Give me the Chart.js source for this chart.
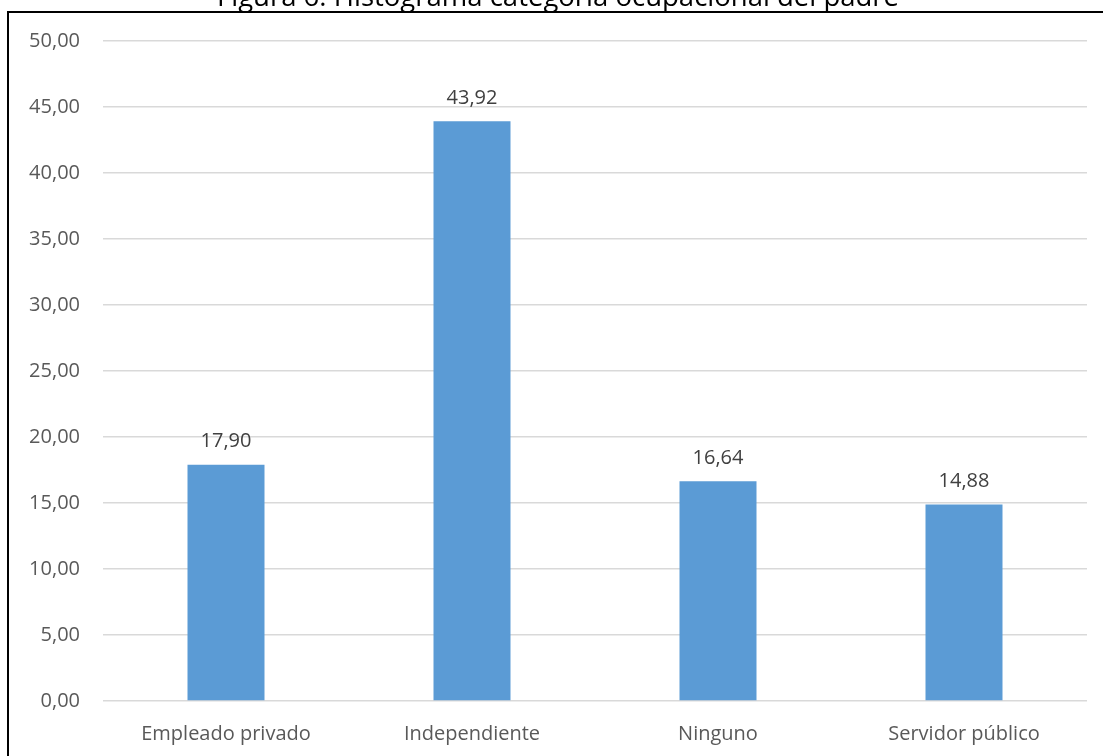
<!DOCTYPE html>
<html>
<head>
<meta charset="utf-8">
<script src="https://cdn.jsdelivr.net/npm/chart.js@4/dist/chart.umd.min.js"></script>
<style>
  body { margin: 0; background: #fff; overflow: hidden; }
  #wrap { position: absolute; left: 0; top: 0; width: 1103px; height: 756px; }
</style>
</head>
<body>
<div id="wrap"><canvas id="chart6"></canvas></div>
<script>
const titulo = 'Figura 6. Histograma categoría ocupacional del padre'
const categorias = ['Empleado privado', 'Independiente', 'Ninguno', 'Servidor público']
const porcentajes = [17.90, 43.92, 16.64, 14.88]

const fmt = v => v.toFixed(2).replace('.', ',')
const fuente = '"Open Sans", "Noto Sans", sans-serif'

// marco y titulo recortado arriba
const marco = {
    id: 'marco',
    afterDraw(chart) {
        const ctx = chart.ctx
        ctx.save()
        ctx.fillStyle = '#000'
        ctx.font = '27.5px ' + fuente
        ctx.textAlign = 'center'
        ctx.textBaseline = 'alphabetic'
        ctx.fillText(titulo, 558, 6)
        ctx.strokeStyle = '#000'
        ctx.lineWidth = 2
        ctx.beginPath()
        ctx.moveTo(8, 760)
        ctx.lineTo(8, 12)
        ctx.lineTo(1103, 12)
        ctx.stroke()
        ctx.restore()
    }
}

// valores encima de cada barra
const etiquetas = {
    id: 'etiquetas',
    afterDatasetsDraw(chart) {
        const ctx = chart.ctx
        const meta = chart.getDatasetMeta(0)
        ctx.save()
        ctx.fillStyle = '#404040'
        ctx.font = '20px ' + fuente
        ctx.textAlign = 'center'
        ctx.textBaseline = 'middle'
        meta.data.forEach((bar, i) => {
            ctx.fillText(fmt(porcentajes[i]), bar.x, bar.y - 23)
        })
        ctx.restore()
    }
}

new Chart('chart6', {
    type: 'bar',
    data: {
        labels: categorias,
        datasets: [{
            data: porcentajes,
            backgroundColor: '#5b9bd5',
            barPercentage: 0.5,
            categoryPercentage: 0.626
        }]
    },
    options: {
        responsive: true,
        maintainAspectRatio: false,
        animation: false,
        layout: { padding: { left: 8, right: 16, top: 41, bottom: 0 } },
        plugins: {
            legend: { display: false },
            tooltip: { enabled: false }
        },
        scales: {
            x: {
                grid: { display: false },
                border: { display: false },
                ticks: { color: '#595959', font: { family: fuente, size: 20 }, padding: 13 },
                afterFit: s => { s.height = 55 }
            },
            y: {
                min: 0,
                max: 50,
                ticks: {
                    stepSize: 5,
                    color: '#595959',
                    font: { family: fuente, size: 20 },
                    padding: 23,
                    callback: v => fmt(v)
                },
                grid: { color: '#d9d9d9', lineWidth: 1.5, drawTicks: false },
                border: { display: false },
                afterFit: s => { s.width = 95 }
            }
        }
    },
    plugins: [etiquetas, marco]
})
</script>
</body>
</html>
